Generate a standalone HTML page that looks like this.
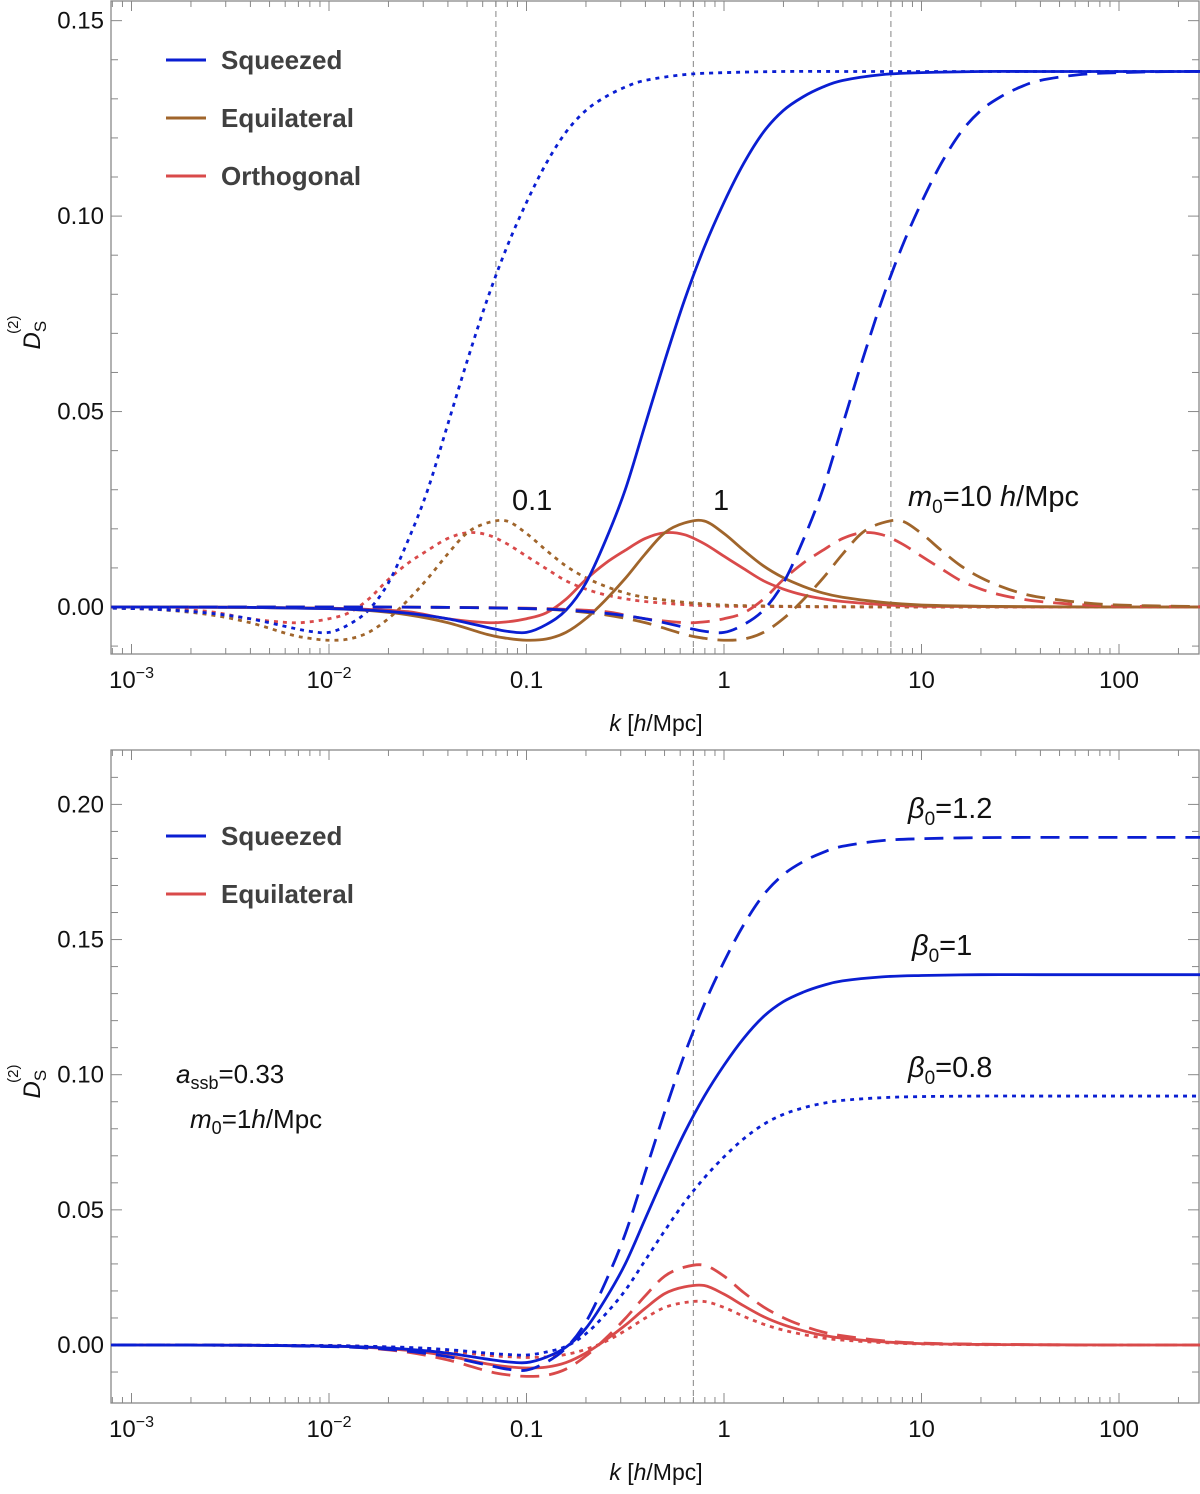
<!DOCTYPE html>
<html><head><meta charset="utf-8">
<style>
html,body{margin:0;padding:0;background:#fff;}
svg text{font-family:"Liberation Sans",Arial,sans-serif;}
</style></head>
<body>
<svg id="chart" width="1200" height="1489" viewBox="0 0 1200 1489" xmlns="http://www.w3.org/2000/svg">
<defs>
<clipPath id="clipTop"><rect x="111" y="1" width="1089" height="653"/></clipPath>
<clipPath id="clipBot"><rect x="111" y="750" width="1089" height="653"/></clipPath>
</defs>
<g id="top"></g>
<g id="bot"></g>
</svg>
<script>
// ---- data ----
const logkBase = [-4.1,-3,-2.4,-2,-1.8,-1.6,-1.4,-1.2,-1.1,-1.0,-0.9,-0.8,-0.7,-0.6,-0.5,-0.4,-0.3,-0.2,-0.1,0,0.1,0.2,0.3,0.4,0.5,0.6,0.8,1.0,1.3,1.6,2,3.4];
const logkLow  = [-5.1,-4,-3.4,-3,-2.8,-2.6,-2.4,-2.2,-2.1,-2.0,-1.9,-1.8,-1.7,-1.6,-1.5,-1.4,-1.3,-1.2,-1.1,-1,-0.9,-0.8,-0.7,-0.6,-0.5,-0.4,-0.2,0,0.3,0.6,1,2.4];
const logkHigh = [-3.1,-2,-1.4,-1,-0.8,-0.6,-0.4,-0.2,-0.1,0.0,0.1,0.2,0.3,0.4,0.5,0.6,0.7,0.8,0.9,1,1.1,1.2,1.3,1.4,1.5,1.6,1.8,2.0,2.3,2.6,3,4.4];
const squeezedVals = [0,0,-0.0001,-0.0004,-0.0008,-0.0016,-0.003,-0.0052,-0.0062,-0.0065,-0.0045,-0.0008,0.0061,0.017,0.030,0.0465,0.063,0.0785,0.092,0.1035,0.1135,0.1215,0.127,0.1305,0.133,0.1347,0.1362,0.1367,0.137,0.137,0.137,0.137];
const equilateralVals = [0,0,-0.0001,-0.0004,-0.0009,-0.002,-0.004,-0.007,-0.008,-0.0085,-0.0082,-0.0065,-0.003,0.0018,0.0073,0.0135,0.019,0.0215,0.022,0.0188,0.0145,0.0105,0.0075,0.0053,0.0036,0.0025,0.0012,0.0005,0.0002,0.0001,0,0];
const orthogonalVals = [0,0,-0.0001,-0.0003,-0.0006,-0.0012,-0.003,-0.004,-0.0038,-0.003,-0.0015,0.002,0.007,0.0112,0.0145,0.0175,0.019,0.0185,0.0162,0.013,0.0098,0.0067,0.0046,0.0031,0.0021,0.0014,0.0006,0.0002,0.0001,0,0,0];
const sqzBeta12 = [0,0,-0.0001,-0.0006,-0.0011,-0.0023,-0.0043,-0.0074,-0.0089,-0.0093,-0.0064,-0.0011,0.0084,0.0233,0.0411,0.0637,0.0863,0.1075,0.126,0.1418,0.1555,0.1665,0.174,0.1788,0.1822,0.1845,0.1866,0.1873,0.1877,0.1878,0.1878,0.1878];
const sqzBeta08 = [0,0,-0.0001,-0.0002,-0.0005,-0.0009,-0.0017,-0.003,-0.0035,-0.0037,-0.0026,-0.0005,0.0041,0.0114,0.0202,0.0312,0.0423,0.0528,0.0618,0.0696,0.0763,0.0816,0.0853,0.0877,0.0894,0.0905,0.0915,0.0919,0.0921,0.0921,0.0921,0.0921];
const eqBeta12 = [0,0,-0.0001,-0.0005,-0.0012,-0.0027,-0.0055,-0.0096,-0.011,-0.0116,-0.0112,-0.0089,-0.0041,0.0024,0.0098,0.0181,0.0255,0.0288,0.0295,0.0255,0.0194,0.0141,0.0101,0.0071,0.0048,0.0034,0.0016,0.0007,0.0003,0.0001,0,0];
const eqBeta08 = [0,0,-0.0001,-0.0002,-0.0005,-0.0011,-0.0022,-0.0038,-0.0043,-0.0046,-0.0044,-0.0035,-0.0016,0.0013,0.0053,0.0099,0.0139,0.0157,0.0161,0.0139,0.0106,0.0077,0.0055,0.0039,0.0026,0.0018,0.0009,0.0004,0.0001,0.0001,0,0];
const xTickLabels = ["10<tspan dy='-10' font-size='16'>−3</tspan>","10<tspan dy='-10' font-size='16'>−2</tspan>","0.1","1","10","100"];
const xTickLogs = [-3,-2,-1,0,1,2];
const topYTicks = [0,0.05,0.10,0.15];
const botYTicks = [0,0.05,0.10,0.15,0.20];
const topVLines = [-1.155,-0.155,0.845];
const botVLines = [-0.155];

const BLUE="#0a1ed2", BROWN="#a0652b", RED="#d94a4a";
const NS="http://www.w3.org/2000/svg";
function mk(parent,tag,attrs){const e=document.createElementNS(NS,tag);for(const k in attrs)e.setAttribute(k,attrs[k]);parent.appendChild(e);return e;}

const xScale = L => 724 + L*197.5;
const X0=111, X1=1200;

function catmull(pts){
  let d="M"+pts[0][0].toFixed(2)+","+pts[0][1].toFixed(2);
  for(let i=0;i<pts.length-1;i++){
    const p0=pts[Math.max(0,i-1)],p1=pts[i],p2=pts[i+1],p3=pts[Math.min(pts.length-1,i+2)];
    const c1=[p1[0]+(p2[0]-p0[0])/6,p1[1]+(p2[1]-p0[1])/6];
    const c2=[p2[0]-(p3[0]-p1[0])/6,p2[1]-(p3[1]-p1[1])/6];
    d+="C"+c1[0].toFixed(2)+","+c1[1].toFixed(2)+" "+c2[0].toFixed(2)+","+c2[1].toFixed(2)+" "+p2[0].toFixed(2)+","+p2[1].toFixed(2);
  }
  return d;
}

function panel(g, top, bottom, y0px, perUnit, yTicks, vlines, clip){
  const yScale = v => y0px - v*perUnit;
  vlines.forEach(L=>{
    const l=mk(g,"line",{x1:xScale(L),x2:xScale(L),y1:top,y2:bottom,stroke:"#999","stroke-width":1.2,"stroke-dasharray":"6,4"});
    
    
  });
  const fr=mk(g,"rect",{x:X0,y:top,width:X1-X0-1,height:bottom-top,fill:"none",stroke:"#888","stroke-width":1.3});
  
  
  for(let dec=-4;dec<=2;dec++){
    for(let m=1;m<=9;m++){
      const L=dec+Math.log10(m); const x=xScale(L);
      if(x<X0||x>X1-1) continue;
      const len=m===1?10:6;
      mk(g,"line",{x1:x,x2:x,y1:bottom,y2:bottom-len,stroke:"#888","stroke-width":1});
      mk(g,"line",{x1:x,x2:x,y1:top,y2:top+len,stroke:"#888","stroke-width":1});
    }
  }
  xTickLogs.forEach((L,i)=>{
    const t=mk(g,"text",{x:xScale(L),y:bottom+34,"text-anchor":"middle","font-size":24,fill:"#111"});
    t.innerHTML=xTickLabels[i];
    
    
  });
  for(let v=-0.01; v<=yTicks[yTicks.length-1]+0.02; v+=0.01){
    const y=yScale(v); if(y<top||y>bottom) continue;
    const major=Math.abs(Math.round(v/0.05)*0.05-v)<1e-6;
    const len=major?11:7;
    mk(g,"line",{x1:X0,x2:X0+len,y1:y,y2:y,stroke:"#888","stroke-width":1});
    mk(g,"line",{x1:X1-1,x2:X1-1-len,y1:y,y2:y,stroke:"#888","stroke-width":1});
  }
  yTicks.forEach(v=>{
    const t=mk(g,"text",{x:X0-7,y:yScale(v)+8,"text-anchor":"end","font-size":24,fill:"#111"});
    t.textContent=v.toFixed(2);
    
    
  });
  const xt=mk(g,"text",{x:656,y:bottom+77,"text-anchor":"middle","font-size":23,fill:"#111"});
  xt.innerHTML="<tspan font-style='italic'>k</tspan> [<tspan font-style='italic'>h</tspan>/Mpc]";
  
  
  const cy=(top+bottom)/2;
  const yt=mk(g,"text",{transform:`translate(40,${cy+22}) rotate(-90)`,"font-size":24,fill:"#111"});
  yt.innerHTML="<tspan font-style='italic'>D</tspan><tspan font-size='17' dy='6'>S</tspan><tspan font-size='15' dx='-13' dy='-28'>(2)</tspan>";
  
  
  const cg=mk(g,"g",{"clip-path":`url(#${clip})`});
  return {yScale, cg};
}

function series(cg, yScale, xs, vals, color, style, name){
  const pts=xs.map((L,i)=>[xScale(L), yScale(vals[i])]);
  const attrs={d:catmull(pts),fill:"none",stroke:color,"stroke-width":2.8};
  if(style==="dashed") attrs["stroke-dasharray"]="19,10";
  if(style==="dotted") attrs["stroke-dasharray"]="4,5";
  const p=mk(cg,"path",attrs);
  
  
}

function legend(g, items, y0){
  items.forEach((it,i)=>{
    const y=y0+i*58;
    const l=mk(g,"line",{x1:166,x2:206,y1:y,y2:y,stroke:it[1],"stroke-width":3});
    
    
    const t=mk(g,"text",{x:221,y:y+9,"font-size":26,"font-weight":"bold",fill:"#404040"});
    t.textContent=it[0];
    
    
  });
}
function label(g, x, y, html, name, size){
  const t=mk(g,"text",{x:x,y:y,"font-size":size||29,fill:"#111"});
  t.innerHTML=html;
  
  
}

// ---- top panel ----
const gT=document.getElementById("top");
const T=panel(gT,1,654,607,3909,topYTicks,topVLines,"clipTop");
[[logkLow,"dotted","m0-0.1"],[logkBase,"solid","m0-1"],[logkHigh,"dashed","m0-10"]].forEach(([xs,st,tag])=>{
  series(T.cg,T.yScale,xs,orthogonalVals,RED,st,"orthogonal-"+tag);
  series(T.cg,T.yScale,xs,equilateralVals,BROWN,st,"equilateral-"+tag);
  series(T.cg,T.yScale,xs,squeezedVals,BLUE,st,"squeezed-"+tag);
});
legend(gT,[["Squeezed",BLUE],["Equilateral",BROWN],["Orthogonal",RED]],60);
label(gT,512,510,"0.1","label-0.1");
label(gT,713,510,"1","label-1");
label(gT,908,506,"<tspan font-style='italic'>m</tspan><tspan font-size='19' dy='7'>0</tspan><tspan dy='-7'>=10 </tspan><tspan font-style='italic'>h</tspan>/Mpc","label-m0-10");

// ---- bottom panel ----
const gB=document.getElementById("bot");
const B=panel(gB,750,1403,1345,2703,botYTicks,botVLines,"clipBot");
series(B.cg,B.yScale,logkBase,eqBeta12,RED,"dashed","equilateral-beta-1.2");
series(B.cg,B.yScale,logkBase,equilateralVals,RED,"solid","equilateral-beta-1");
series(B.cg,B.yScale,logkBase,eqBeta08,RED,"dotted","equilateral-beta-0.8");
series(B.cg,B.yScale,logkBase,sqzBeta12,BLUE,"dashed","squeezed-beta-1.2");
series(B.cg,B.yScale,logkBase,squeezedVals,BLUE,"solid","squeezed-beta-1");
series(B.cg,B.yScale,logkBase,sqzBeta08,BLUE,"dotted","squeezed-beta-0.8");
legend(gB,[["Squeezed",BLUE],["Equilateral",RED]],836);
const beta=v=>"<tspan font-style='italic'>β</tspan><tspan font-size='19' dy='7'>0</tspan><tspan dy='-7'>="+v+"</tspan>";
label(gB,908,818,beta("1.2"),"label-beta-1.2");
label(gB,912,955,beta("1"),"label-beta-1");
label(gB,908,1077,beta("0.8"),"label-beta-0.8");
label(gB,176,1083,"<tspan font-style='italic'>a</tspan><tspan font-size='18' dy='6'>ssb</tspan><tspan dy='-6'>=0.33</tspan>","label-assb",26);
label(gB,190,1128,"<tspan font-style='italic'>m</tspan><tspan font-size='18' dy='6'>0</tspan><tspan dy='-6'>=1</tspan><tspan font-style='italic'>h</tspan>/Mpc","label-m0-1",26);
</script>
</body></html>
